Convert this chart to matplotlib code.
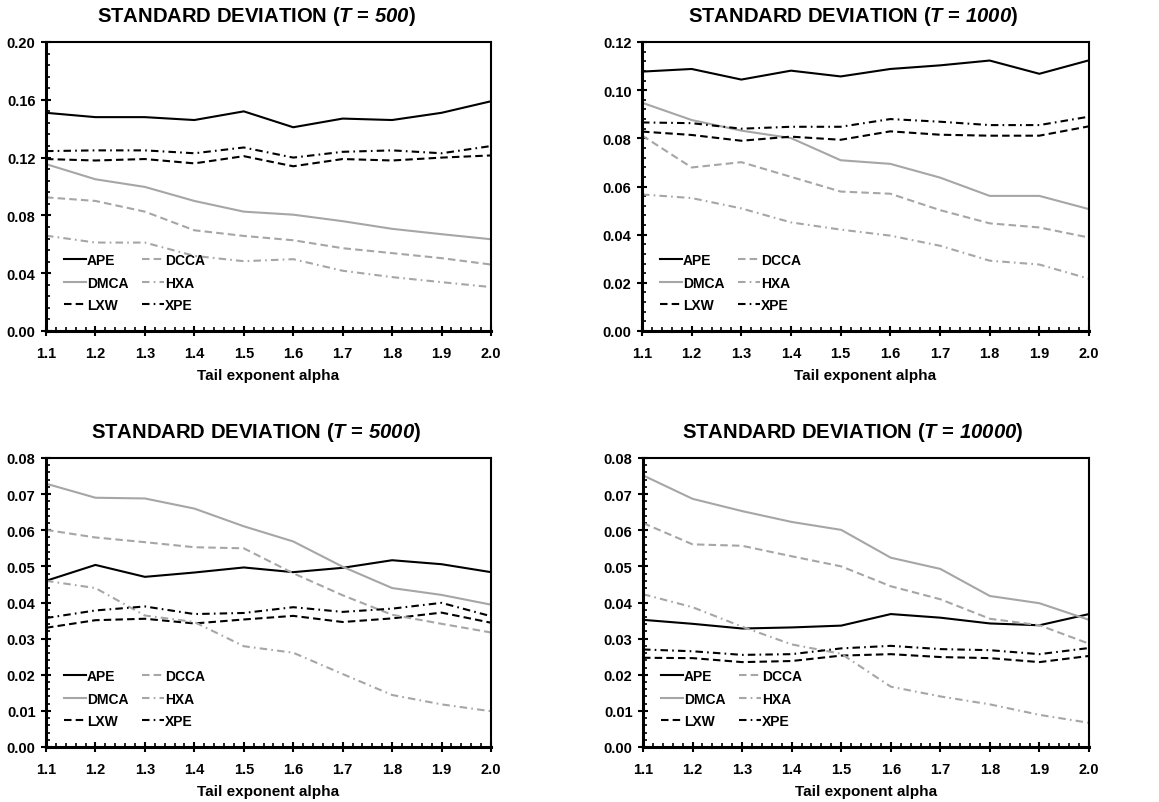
import matplotlib
matplotlib.use("Agg")
import matplotlib.pyplot as plt
from matplotlib.ticker import MultipleLocator, FormatStrFormatter

plt.rcParams['font.family'] = ['Liberation Sans', 'DejaVu Sans']
plt.rcParams['font.weight'] = 'bold'
plt.rcParams['mathtext.fontset'] = 'custom'
plt.rcParams['mathtext.bf'] = 'Liberation Sans:bold'
plt.rcParams['mathtext.bfit'] = 'Liberation Sans:bold:italic'
plt.rcParams['mathtext.it'] = 'Liberation Sans:bold:italic'
plt.rcParams['mathtext.rm'] = 'Liberation Sans:bold'

alpha = [1.1, 1.2, 1.3, 1.4, 1.5, 1.6, 1.7, 1.8, 1.9, 2.0]
methods = ["APE", "DMCA", "LXW", "DCCA", "HXA", "XPE"]
sample_sizes = ["500", "1000", "5000", "10000"]

# T = 500
ape_500 = [0.151, 0.148, 0.148, 0.146, 0.152, 0.141, 0.147, 0.146, 0.151, 0.159]
dmca_500 = [0.1155, 0.105, 0.0997, 0.090, 0.0826, 0.0805, 0.076, 0.0707, 0.067, 0.0635]
lxw_500 = [0.119, 0.118, 0.119, 0.116, 0.121, 0.114, 0.119, 0.118, 0.120, 0.1215]
dcca_500 = [0.0925, 0.090, 0.0826, 0.0697, 0.0658, 0.0628, 0.0573, 0.0539, 0.0504, 0.046]
hxa_500 = [0.066, 0.0612, 0.0612, 0.052, 0.0483, 0.0497, 0.0417, 0.0373, 0.0338, 0.0304]
xpe_500 = [0.1245, 0.125, 0.125, 0.123, 0.127, 0.120, 0.124, 0.125, 0.123, 0.128]

# T = 1000
ape_1000 = [0.1077, 0.1088, 0.1044, 0.1081, 0.1057, 0.1088, 0.1103, 0.1123, 0.1068, 0.1124]
dmca_1000 = [0.0948, 0.0876, 0.0832, 0.0801, 0.0709, 0.0694, 0.0637, 0.0561, 0.0561, 0.0506]
lxw_1000 = [0.0828, 0.0814, 0.079, 0.0807, 0.0794, 0.0829, 0.0815, 0.0811, 0.0811, 0.085]
dcca_1000 = [0.0812, 0.0679, 0.0701, 0.064, 0.0579, 0.057, 0.0502, 0.0447, 0.043, 0.0388]
hxa_1000 = [0.0567, 0.0552, 0.0509, 0.0451, 0.0421, 0.0396, 0.0354, 0.0292, 0.0276, 0.0217]
xpe_1000 = [0.0866, 0.0863, 0.084, 0.0848, 0.0848, 0.088, 0.0869, 0.0855, 0.0855, 0.089]

# T = 5000
ape_5000 = [0.046, 0.0504, 0.0471, 0.0483, 0.0497, 0.0484, 0.0496, 0.0517, 0.0506, 0.0484]
dmca_5000 = [0.0729, 0.069, 0.0688, 0.066, 0.0611, 0.0569, 0.0499, 0.044, 0.0421, 0.0394]
lxw_5000 = [0.033, 0.0351, 0.0355, 0.0342, 0.0353, 0.0363, 0.0346, 0.0356, 0.0372, 0.0344]
dcca_5000 = [0.0601, 0.058, 0.0567, 0.0553, 0.055, 0.0481, 0.042, 0.0366, 0.0341, 0.0317]
hxa_5000 = [0.046, 0.044, 0.0364, 0.0346, 0.0279, 0.0261, 0.0202, 0.0144, 0.0118, 0.0099]
xpe_5000 = [0.0357, 0.0378, 0.0389, 0.0368, 0.0371, 0.0387, 0.0374, 0.0383, 0.0399, 0.0362]

# T = 10000
ape_10000 = [0.0352, 0.0341, 0.0328, 0.0331, 0.0336, 0.0368, 0.0358, 0.0342, 0.0337, 0.0368]
dmca_10000 = [0.0752, 0.0687, 0.0653, 0.0623, 0.0601, 0.0524, 0.0493, 0.0418, 0.0398, 0.0352]
lxw_10000 = [0.0247, 0.0246, 0.0235, 0.0238, 0.0253, 0.0257, 0.0249, 0.0246, 0.0235, 0.0252]
dcca_10000 = [0.062, 0.0561, 0.0557, 0.0528, 0.050, 0.0445, 0.0409, 0.0355, 0.0337, 0.0286]
hxa_10000 = [0.0423, 0.0387, 0.0333, 0.0284, 0.0258, 0.0167, 0.014, 0.0118, 0.0089, 0.0067]
xpe_10000 = [0.027, 0.0265, 0.0255, 0.0257, 0.0273, 0.028, 0.0271, 0.0268, 0.0257, 0.0274]

panel_data = [
    [ape_500, dmca_500, lxw_500, dcca_500, hxa_500, xpe_500],
    [ape_1000, dmca_1000, lxw_1000, dcca_1000, hxa_1000, xpe_1000],
    [ape_5000, dmca_5000, lxw_5000, dcca_5000, hxa_5000, xpe_5000],
    [ape_10000, dmca_10000, lxw_10000, dcca_10000, hxa_10000, xpe_10000],
]
y_max = [0.20, 0.12, 0.08, 0.08]
y_major = [0.04, 0.02, 0.01, 0.01]

GRAY = '#a6a6a6'
DASH = (3.6, 2.0)
DASHDOT = (3.6, 2.0, 0.8, 2.0)
styles = [
    dict(color='black', dashes=()),
    dict(color=GRAY, dashes=()),
    dict(color='black', dashes=DASH),
    dict(color=GRAY, dashes=DASH),
    dict(color=GRAY, dashes=DASHDOT),
    dict(color='black', dashes=DASHDOT),
]

W, H = 1159, 803
fig = plt.figure(figsize=(W / 100, H / 100), dpi=100)

# axes boxes in pixels: left, right, top, bottom
boxes = [
    (46, 491, 43, 332),
    (642, 1089, 43, 332),
    (46, 491, 459, 748),
    (643, 1089, 459, 748),
]
title_pos = [(256, 16), (853, 16), (256, 433), (853, 433)]

for i, (l, r, t, b) in enumerate(boxes):
    ax = fig.add_axes([l / W, 1 - b / H, (r - l) / W, (b - t) / H])
    for j, name in enumerate(methods):
        st = styles[j]
        line, = ax.plot(alpha, panel_data[i][j], color=st['color'], lw=1.5,
                        label=name, solid_joinstyle='round')
        if st['dashes']:
            line.set_dashes(st['dashes'])
    ax.set_xlim(1.1, 2.0)
    ax.set_ylim(0, y_max[i])
    ax.xaxis.set_major_locator(MultipleLocator(0.1))
    ax.xaxis.set_minor_locator(MultipleLocator(0.02))
    ax.yaxis.set_major_locator(MultipleLocator(y_major[i]))
    ax.yaxis.set_minor_locator(MultipleLocator(y_major[i] / 5))
    ax.xaxis.set_major_formatter(FormatStrFormatter('%.1f'))
    ax.yaxis.set_major_formatter(FormatStrFormatter('%.2f'))
    ax.tick_params(which='major', direction='inout', length=7, width=1.5,
                   labelsize=10.5, pad=4)
    ax.tick_params(which='minor', direction='in', length=3, width=1.2)
    ax.tick_params(axis='x', which='major', pad=7)
    for lab in ax.get_xticklabels() + ax.get_yticklabels():
        lab.set_fontweight('bold')
    for s in ax.spines.values():
        s.set_linewidth(1.5)
    ax.spines['left'].set_linewidth(2.2)
    ax.spines['bottom'].set_linewidth(2.2)
    ax.set_xlabel('Tail exponent alpha', fontsize=11, fontweight='bold', labelpad=6)
    leg = ax.legend(loc='lower left', bbox_to_anchor=(0.04, 0.066), ncol=2,
                    frameon=False, fontsize=10, handlelength=1.6,
                    handletextpad=0.05, columnspacing=1.0, labelspacing=0.6,
                    borderaxespad=0, borderpad=0)
    for txt in leg.get_texts():
        txt.set_fontweight('bold')
    tx, ty = title_pos[i]
    fig.text(tx / W, 1 - ty / H,
             r'STANDARD DEVIATION ($\mathbfit{T}$ = $\mathbfit{%s}$)' % sample_sizes[i],
             ha='center', va='center', fontsize=14.6, fontweight='bold')

fig.savefig('out.png', dpi=100)
